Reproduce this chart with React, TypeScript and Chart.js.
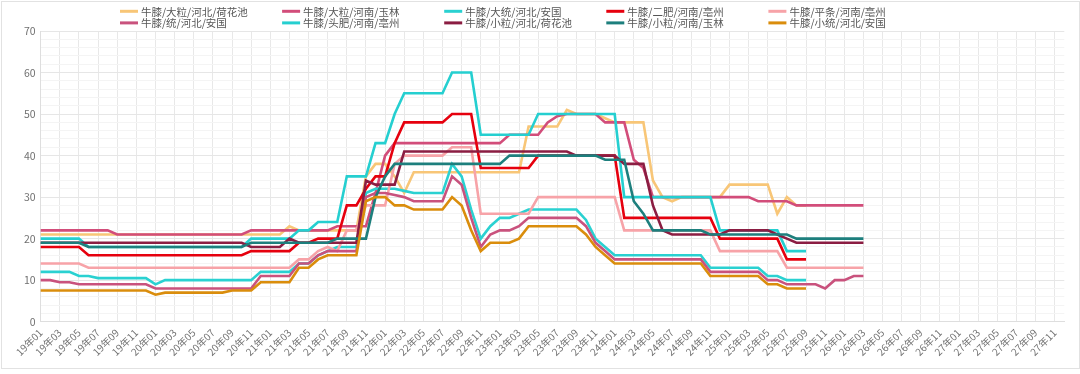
import React, { useEffect, useRef } from "react";
import { Chart, registerables } from "chart.js";

Chart.register(...registerables);

const FONT = '"Noto Sans CJK SC", "Noto Sans", sans-serif';

const monthLabels = [
  "19年01","19年02","19年03","19年04","19年05","19年06","19年07","19年08","19年09","19年10","19年11","19年12",
  "20年01","20年02","20年03","20年04","20年05","20年06","20年07","20年08","20年09","20年10","20年11","20年12",
  "21年01","21年02","21年03","21年04","21年05","21年06","21年07","21年08","21年09","21年10","21年11","21年12",
  "22年01","22年02","22年03","22年04","22年05","22年06","22年07","22年08","22年09","22年10","22年11","22年12",
  "23年01","23年02","23年03","23年04","23年05","23年06","23年07","23年08","23年09","23年10","23年11","23年12",
  "24年01","24年02","24年03","24年04","24年05","24年06","24年07","24年08","24年09","24年10","24年11","24年12",
  "25年01","25年02","25年03","25年04","25年05","25年06","25年07","25年08","25年09","25年10","25年11","25年12",
  "26年01","26年02","26年03","26年04","26年05","26年06","26年07","26年08","26年09","26年10","26年11","26年12",
  "27年01","27年02","27年03","27年04","27年05","27年06","27年07","27年08","27年09","27年10","27年11","27年12",
];

const seriesNames = [
  "牛膝/大粒/河北/荷花池",
  "牛膝/大粒/河南/玉林",
  "牛膝/大统/河北/安国",
  "牛膝/二肥/河南/亳州",
  "牛膝/平条/河南/亳州",
  "牛膝/统/河北/安国",
  "牛膝/头肥/河南/亳州",
  "牛膝/小粒/河北/荷花池",
  "牛膝/小粒/河南/玉林",
  "牛膝/小统/河北/安国",
];

const seriesColors = [
  "#f8c677", "#d24d7a", "#2ad1d1", "#e6000e", "#f7a3a8",
  "#c9527d", "#25cfd0", "#8b1d42", "#1d7f7d", "#da8d0c",
];

const daLiHebei = [
  21,21,21,21,21,21,21,21,21,21,21,21,
  21,21,21,21,21,21,21,21,21,21,21,21,
  21,21,23,22,22,22,22,22,22,22,35,38,
  38,35,31,36,36,36,36,36,36,36,36,36,
  36,36,36,47,47,47,47,51,50,50,50,49,
  48,48,48,48,34,30,29,30,30,30,30,30,
  33,33,33,33,33,26,30,28,28,
];

const daLiYulin = [
  22,22,22,22,22,22,22,22,21,21,21,21,
  21,21,21,21,21,21,21,21,21,21,22,22,
  22,22,22,22,22,22,22,23,23,23,23,31,
  40,43,43,43,43,43,43,43,43,43,43,43,
  43,45,45,45,45,48,49.5,50,50,50,50,48,
  48,48,39,37,30,30,30,30,30,30,30,30,
  30,30,30,29,29,29,29,28,28,28,28,28,
  28,28,28,
];

const daTongAnguo = [
  12,12,12,12,11,11,10.5,10.5,10.5,10.5,10.5,10.5,
  9,10,10,10,10,10,10,10,10,10,10,12,
  12,12,12,14,14,16,17,18,18,18,31,32,
  32,32,31.5,31,31,31,31,38,35,27,20,23,
  25,25,26,27,27,27,27,27,27,24.5,20,18,
  16,16,16,16,16,16,16,16,16,16,13,13,
  13,13,13,13,11,11,10,10,10,
];

const erFeiBozhou = [
  18,18,18,18,18,16,16,16,16,16,16,16,
  16,16,16,16,16,16,16,16,16,16,17,17,
  17,17,17,19,19,20,20,20,28,28,32,35,
  35,43,48,48,48,48,48,50,50,50,37,37,
  37,37,37,37,40,40,40,40,40,40,40,40,
  40,25,25,25,25,25,25,25,25,25,25,20,
  20,20,20,20,20,20,15,15,15,
];

const pingTiaoBozhou = [
  14,14,14,14,14,13,13,13,13,13,13,13,
  13,13,13,13,13,13,13,13,13,13,13,13,
  13,13,13,15,15,17,18,17,22,22,28,28,
  28,38,40,40,40,40,40,42,42,42,26,26,
  26,26,26,26,30,30,30,30,30,30,30,30,
  30,22,22,22,22,22,22,22,22,22,22,17,
  17,17,17,17,17,17,13,13,13,13,13,13,
  13,13,13,
];

const tongAnguo = [
  10,10,9.5,9.5,9,9,9,9,9,9,9,9,
  8,8,8,8,8,8,8,8,8,8,8,11,
  11,11,11,14,14,16,17,17,17,17,30,31,
  31,30.5,30,29,29,29,29,35,33,25,18,21,
  22,22,23,25,25,25,25,25,25,23,19,17,
  15,15,15,15,15,15,15,15,15,15,12,12,
  12,12,12,12,10,10,9,9,9,9,8,10,
  10,11,11,
];

const touFeiBozhou = [
  20,20,20,20,20,18,18,18,18,18,18,18,
  18,18,18,18,18,18,18,18,18,18,20,20,
  20,20,20,22,22,24,24,24,35,35,35,43,
  43,50,55,55,55,55,55,60,60,60,45,45,
  45,45,45,45,50,50,50,50,50,50,50,50,
  50,30,30,30,30,30,30,30,30,30,30,22,
  22,22,22,22,22,22,17,17,17,
];

const xiaoLiHebei = [
  19,19,19,19,19,19,19,19,19,19,19,19,
  19,19,19,19,19,19,19,19,19,19,18,18,
  18,18,20,19,19,19,19,19,19,19,34,33,
  33,33,41,41,41,41,41,41,41,41,41,41,
  41,41,41,41,41,41,41,41,40,40,40,40,
  40,38,38,38,28,22,21,21,21,21,21,21,
  22,22,22,22,22,21,20,19,19,19,19,19,
  19,19,19,
];

const xiaoLiYulin = [
  19,19,19,19,19,18,18,18,18,18,18,18,
  18,18,18,18,18,18,18,18,18,18,19,19,
  19,19,19,19,19,19,19,20,20,20,20,30,
  35,38,38,38,38,38,38,38,38,38,38,38,
  38,40,40,40,40,40,40,40,40,40,40,39,
  39,39,29,26,22,22,22,22,22,22,21,21,
  21,21,21,21,21,21,21,20,20,20,20,20,
  20,20,20,
];

const xiaoTongAnguo = [
  7.5,7.5,7.5,7.5,7.5,7.5,7.5,7.5,7.5,7.5,7.5,7.5,
  6.5,7,7,7,7,7,7,7,7.5,7.5,7.5,9.5,
  9.5,9.5,9.5,13,13,15,16,16,16,16,29,30,
  30,28,28,27,27,27,27,30,28,22,17,19,
  19,19,20,23,23,23,23,23,23,21,18,16,
  14,14,14,14,14,14,14,14,14,14,11,11,
  11,11,11,11,9,9,8,8,8,
];

const seriesValues = [
  daLiHebei, daLiYulin, daTongAnguo, erFeiBozhou, pingTiaoBozhou,
  tongAnguo, touFeiBozhou, xiaoLiHebei, xiaoLiYulin, xiaoTongAnguo,
];

const yTicks = [0, 10, 20, 30, 40, 50, 60, 70];

const gridLegendPlugin = {
  id: "gridLegend",
  afterDraw(chart: any) {
    const ctx = chart.ctx;
    ctx.save();
    ctx.font = `10.5px ${FONT}`;
    ctx.textBaseline = "middle";
    ctx.textAlign = "left";
    chart.data.datasets.forEach((ds: any, i: number) => {
      const col = i % 5;
      const row = Math.floor(i / 5);
      const x = 120 + col * 162.1;
      const y = 11.3 + row * 11.6;
      ctx.strokeStyle = ds.borderColor;
      ctx.lineWidth = 3;
      ctx.beginPath();
      ctx.moveTo(x, y);
      ctx.lineTo(x + 18, y);
      ctx.stroke();
      ctx.fillStyle = "#555";
      ctx.fillText(ds.label, x + 21, y + 0.5);
    });
    ctx.restore();
  },
};

export default function App() {
  const canvasRef = useRef<HTMLCanvasElement | null>(null);

  useEffect(() => {
    if (!canvasRef.current) return;
    Chart.defaults.font.family = FONT;
    const chart = new Chart(canvasRef.current, {
      type: "line",
      data: {
        labels: monthLabels,
        datasets: seriesNames.map((name, i) => ({
          label: name,
          data: seriesValues[i],
          borderColor: seriesColors[i],
          backgroundColor: seriesColors[i],
          borderWidth: 2.6,
          pointRadius: 0,
          pointHoverRadius: 0,
          tension: 0,
          fill: false,
          order: 20 - i,
        })),
      },
      options: {
        animation: false,
        responsive: true,
        maintainAspectRatio: false,
        layout: { padding: { top: 31, right: 15.7, left: 0, bottom: 0 } },
        plugins: {
          legend: { display: false },
          tooltip: { enabled: false },
          title: { display: false },
        },
        scales: {
          x: {
            grid: {
              color: (c: any) => (c.index % 2 === 0 ? "#e8e8e8" : "rgba(0,0,0,0)"),
              drawTicks: false,
            },
            border: { color: "#dedede" },
            ticks: {
              autoSkip: false,
              minRotation: 45,
              maxRotation: 45,
              padding: 5,
              color: "#707070",
              font: { size: 10, family: FONT },
              callback: (_v: any, i: number) => (i % 2 === 0 ? monthLabels[i] : ""),
            },
            afterFit: (s: any) => {
              s.height = 52.3;
            },
          },
          y: {
            min: 0,
            max: 70,
            grid: {
              color: (c: any) =>
                c.tick && yTicks.includes(c.tick.value) ? "#e6e6e6" : "#f4f4f4",
              drawTicks: false,
            },
            border: { color: "#dedede" },
            ticks: {
              stepSize: 2,
              maxTicksLimit: 100,
              autoSkip: false,
              padding: 5,
              color: "#707070",
              font: { size: 10.5, family: FONT },
              callback: (v: any) => (yTicks.includes(Number(v)) ? String(v) : ""),
            },
            afterFit: (s: any) => {
              s.width = 40.7;
            },
          },
        },
      },
      plugins: [gridLegendPlugin],
    });
    return () => chart.destroy();
  }, []);

  return (
    <div style={{ position: "relative", width: 1080, height: 374, background: "#fff" }}>
      <style>{`body{margin:0;}`}</style>
      <div
        style={{
          position: "absolute",
          left: 1,
          top: 1,
          width: 1079,
          height: 368,
          border: "1px solid #e2e2e2",
          boxSizing: "border-box",
        }}
      />
      <canvas
        ref={canvasRef}
        style={{ position: "absolute", left: 0, top: 0, width: 1080, height: 374 }}
      />
    </div>
  );
}
